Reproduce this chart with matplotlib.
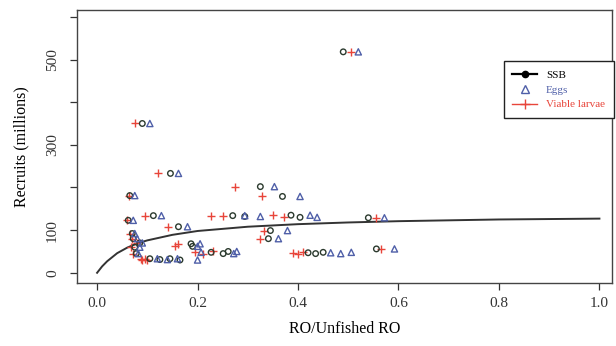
import matplotlib
matplotlib.use("Agg")
import matplotlib.pyplot as plt
from matplotlib.lines import Line2D

plt.rcParams['font.family'] = ['Liberation Serif', 'DejaVu Serif']

# relative index per year (SSB, eggs, viable larvae) vs recruits (millions)
ssb = [0.49, 0.09, 0.146, 0.065, 0.325, 0.369, 0.112, 0.27, 0.294, 0.386, 0.404,
       0.062, 0.54, 0.162, 0.345, 0.341, 0.187, 0.19, 0.227, 0.251, 0.261,
       0.42, 0.435, 0.45, 0.556, 0.105, 0.125, 0.145, 0.165, 0.07, 0.072,
       0.075, 0.078, 0.085]
eggs = [0.52, 0.105, 0.162, 0.075, 0.353, 0.404, 0.128, 0.294, 0.325, 0.424, 0.438,
        0.072, 0.572, 0.18, 0.379, 0.361, 0.205, 0.2, 0.207, 0.272, 0.278,
        0.465, 0.485, 0.506, 0.592, 0.12, 0.14, 0.16, 0.2, 0.075, 0.08,
        0.085, 0.082, 0.09]
larvae = [0.505, 0.075, 0.121, 0.063, 0.274, 0.329, 0.095, 0.227, 0.251, 0.351, 0.373,
          0.06, 0.556, 0.142, 0.333, 0.325, 0.162, 0.156, 0.195, 0.21, 0.23,
          0.39, 0.40, 0.41, 0.565, 0.087, 0.09, 0.095, 0.1, 0.066, 0.07,
          0.068, 0.072, 0.08]
recruits = [518, 350, 233, 181, 202, 179, 134, 134, 132, 135, 130,
            123, 129, 108, 99, 80, 68, 62, 48, 45, 50,
            47, 45, 48, 56, 33, 31, 33, 30, 92, 80,
            60, 45, 70]

# fitted stock-recruit curve
curve_x = [0, 0.01, 0.02, 0.04, 0.06, 0.08, 0.1, 0.15, 0.2, 0.3, 0.4, 0.5,
           0.6, 0.7, 0.8, 0.9, 1.0]
curve_y = [0, 15, 27, 46, 59, 69, 76, 89, 98, 108, 114, 118,
           121, 123, 125, 126, 127]

SSB_C = '#2b3a2e'
EGG_C = '#4f5fa8'
LAR_C = '#e8453a'

fig = plt.figure(figsize=(6.16, 3.46), dpi=100)
ax = fig.add_axes([0.125, 0.182, 0.8685, 0.789])

ax.plot(curve_x, curve_y, color='#333333', lw=1.4, zorder=2)
ax.scatter(larvae, recruits, marker='+', s=36, color=LAR_C, lw=1.0, zorder=3)
ax.scatter(ssb, recruits, marker='o', s=16, facecolors='none', edgecolors=SSB_C, lw=1.0, zorder=4)
ax.scatter(eggs, recruits, marker='^', s=20, facecolors='none', edgecolors=EGG_C, lw=1.0, zorder=4)

ax.set_xlim(-0.04, 1.025)
ax.set_ylim(-24, 616)
ax.set_xticks([0.0, 0.2, 0.4, 0.6, 0.8, 1.0])
ax.set_xticklabels(['0.0', '0.2', '0.4', '0.6', '0.8', '1.0'], fontsize=11)
ax.set_yticks([0, 100, 200, 300, 400, 500, 600])
ax.set_yticklabels(['0', '100', '', '300', '', '500', ''], fontsize=11,
                   rotation=90, va='center')
ax.tick_params(direction='out', length=5, width=0.9, colors='#333333')
ax.tick_params(axis='y', pad=8)
ax.tick_params(axis='x', pad=5)
for s in ax.spines.values():
    s.set_color('#444444')
    s.set_linewidth(1.0)

ax.set_xlabel('RO/Unfished RO', fontsize=11.5, labelpad=8)
ax.set_ylabel('Recruits (millions)', fontsize=11.5, labelpad=12)

handles = [
    Line2D([], [], color='black', lw=1.6, marker='o', markersize=4.5),
    Line2D([], [], color=EGG_C, lw=0, marker='^', markersize=5.5,
           markerfacecolor='none'),
    Line2D([], [], color=LAR_C, lw=1.0, marker='+', markersize=7),
]
leg = ax.legend(handles, ['SSB', 'Eggs', 'Viable larvae'], loc='upper left',
                bbox_to_anchor=(0.787, 0.833), fontsize=8, frameon=True,
                fancybox=False, framealpha=1, edgecolor='#222222',
                handlelength=2.2, borderpad=0.8, labelspacing=0.45,
                handletextpad=0.8)
leg.get_frame().set_linewidth(1.0)
for txt, c in zip(leg.get_texts(), ['black', EGG_C, LAR_C]):
    txt.set_color(c)

fig.savefig('out.png', dpi=100)
